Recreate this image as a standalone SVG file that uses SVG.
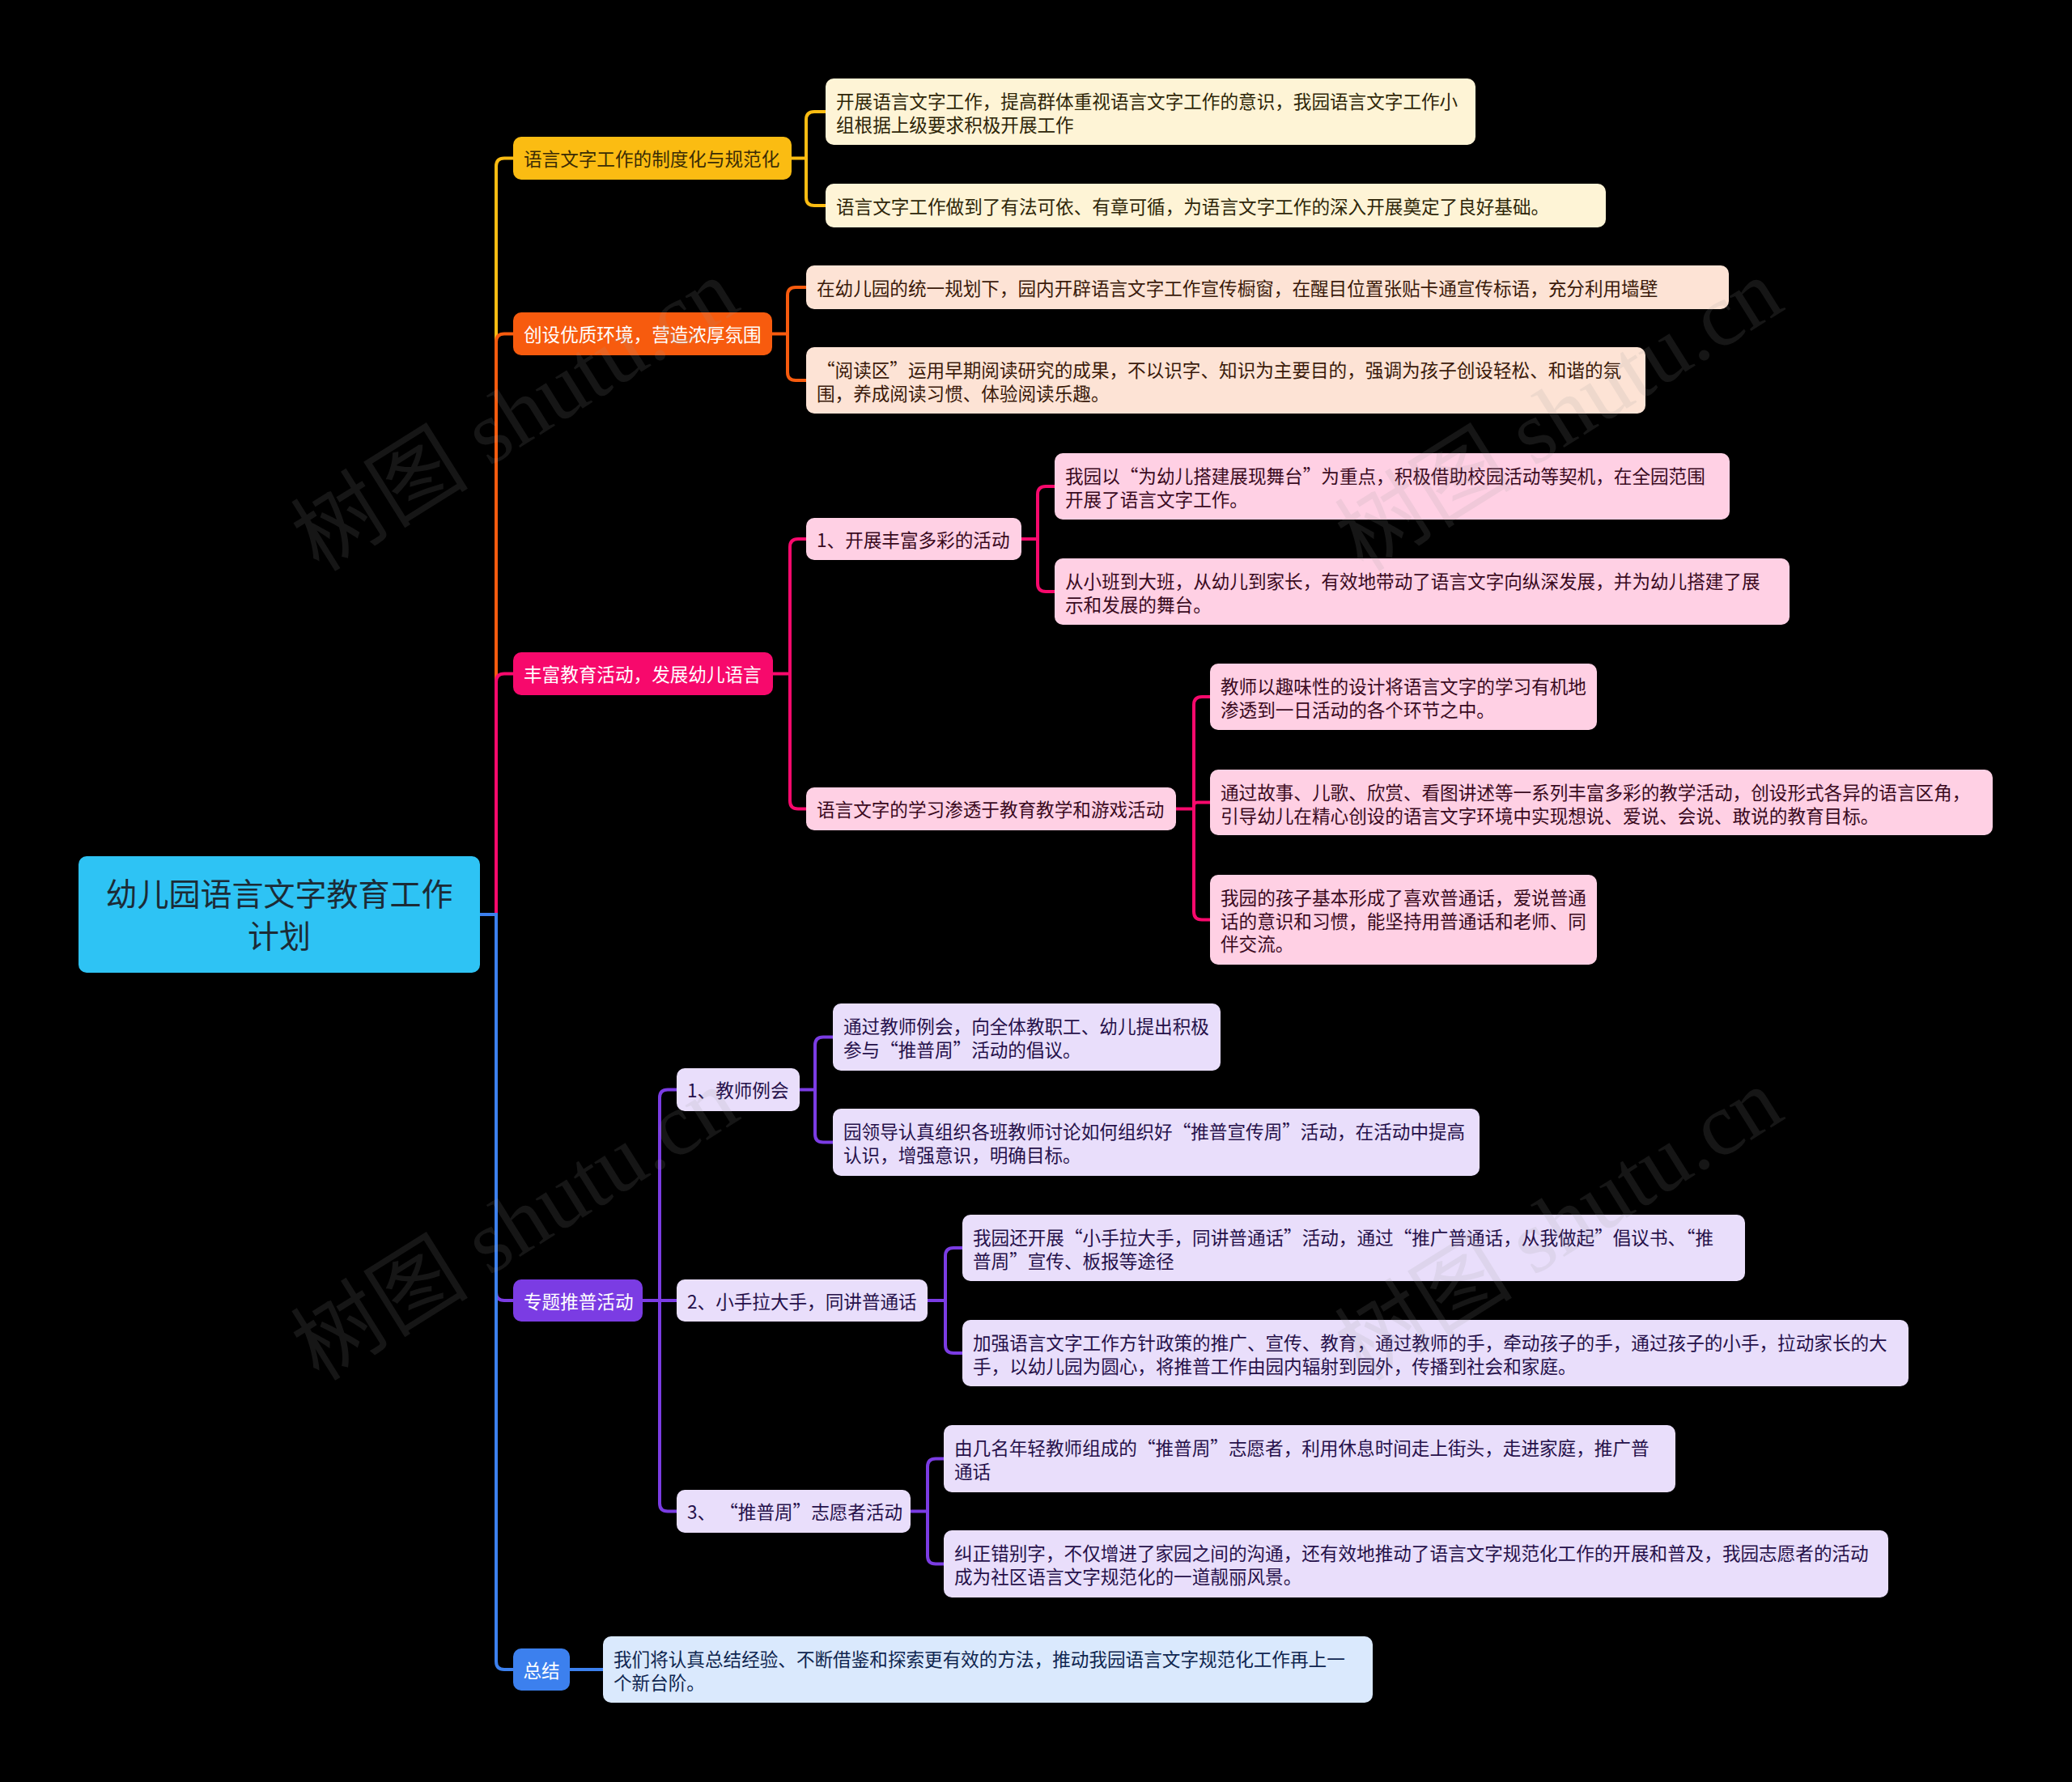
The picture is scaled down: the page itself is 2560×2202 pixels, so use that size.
<svg xmlns="http://www.w3.org/2000/svg" width="2560" height="2202" viewBox="0 0 2560 2202">
<style>
text{font-family:"Noto Sans CJK SC","Noto Sans",sans-serif;font-size:22.6px}
.c{fill:none;stroke-width:4;stroke-linecap:butt;stroke-linejoin:round}
.y{stroke:#FBBC12}.o{stroke:#F75B0E}.p{stroke:#F7096C}.v{stroke:#7B3CE3}.b{stroke:#3C80EE}
.wt{fill:#FFFFFF}
.ty{fill:#3A2C05}.tyc{fill:#2E2608}.toc{fill:#3A1A0A}.tpc{fill:#3A0A1E}.tvc{fill:#26114A}.tbc{fill:#0F2650}
.wm{font-family:"Liberation Serif","Noto Sans CJK SC",serif;font-size:110px;fill:#9a9a9a;opacity:0.14}
</style>
<rect x="0" y="0" width="2560" height="2202" fill="#000000"/>

<g id="connectors">
  <path class="c y" d="M613,1130 V205.5 Q613,195.5 623,195.5 H634"/>
  <path class="c o" d="M613,1130 V422.5 Q613,412.5 623,412.5 H634"/>
  <path class="c p" d="M613,1130 V842.5 Q613,832.5 623,832.5 H634"/>
  <path class="c v" d="M613,1130 V1597 Q613,1607 623,1607 H634"/>
  <path class="c b" d="M613,1130 V2053 Q613,2063 623,2063 H634"/>
  <path class="c b" d="M593,1130 H615"/>

  <path class="c y" d="M978,195.5 H996 M996,195.5 V148 Q996,138 1006,138 H1020 M996,195.5 V244 Q996,254 1006,254 H1020"/>
  <path class="c o" d="M954,412.5 H973 M973,412.5 V365 Q973,355 983,355 H996 M973,412.5 V460 Q973,470 983,470 H996"/>
  <path class="c p" d="M955,832.5 H976 M976,832.5 V676 Q976,666 986,666 H996 M976,832.5 V989.5 Q976,999.5 986,999.5 H996"/>
  <path class="c p" d="M1262,666 H1282 M1282,666 V611 Q1282,601 1292,601 H1303 M1282,666 V721 Q1282,731 1292,731 H1303"/>
  <path class="c p" d="M1453,999.5 H1475 M1475,999.5 V871 Q1475,861 1485,861 H1495 M1475,999.5 V995.5 Q1475,991.5 1479,991.5 H1495 M1475,999.5 V1126.5 Q1475,1136.5 1485,1136.5 H1495"/>
  <path class="c v" d="M794,1607 H815 M815,1607 V1356.5 Q815,1346.5 825,1346.5 H836 M815,1607 H836 M815,1607 V1857.5 Q815,1867.5 825,1867.5 H836"/>
  <path class="c v" d="M988,1346.5 H1007 M1007,1346.5 V1291.5 Q1007,1281.5 1017,1281.5 H1029 M1007,1346.5 V1401.5 Q1007,1411.5 1017,1411.5 H1029"/>
  <path class="c v" d="M1146,1607 H1168 M1168,1607 V1552 Q1168,1542 1178,1542 H1189 M1168,1607 V1662 Q1168,1672 1178,1672 H1189"/>
  <path class="c v" d="M1125,1867.5 H1146 M1146,1867.5 V1812.5 Q1146,1802.5 1156,1802.5 H1166 M1146,1867.5 V1922.5 Q1146,1932.5 1156,1932.5 H1166"/>
  <path class="c b" d="M704,2063 H745"/>
</g>

<g id="root">
  <rect x="97" y="1058" width="496" height="144" rx="10" fill="#2EC3F4"/>
  <text x="345" y="1119" text-anchor="middle" style="font-size:39px" fill="#1C2B36">幼儿园语言文字教育工作</text>
  <text x="345" y="1171" text-anchor="middle" style="font-size:39px" fill="#1C2B36">计划</text>
</g>

<g id="n1">
  <rect x="634" y="169" width="344" height="53" rx="10" fill="#FBBC12"/>
  <text x="647" y="205" class="ty">语言文字工作的制度化与规范化</text>
</g>
<g id="n1a">
  <rect x="1020" y="97" width="803" height="82" rx="10" fill="#FEF4D6"/>
  <text x="1033" y="134" class="tyc">开展语言文字工作，提高群体重视语言文字工作的意识，我园语言文字工作小</text>
  <text x="1033" y="162.5" class="tyc">组根据上级要求积极开展工作</text>
</g>
<g id="n1b">
  <rect x="1020" y="227" width="964" height="54" rx="10" fill="#FEF4D6"/>
  <text x="1033" y="263.5" class="tyc">语言文字工作做到了有法可依、有章可循，为语言文字工作的深入开展奠定了良好基础。</text>
</g>

<g id="n2">
  <rect x="634" y="386" width="320" height="53" rx="10" fill="#F75B0E"/>
  <text x="647" y="422" class="wt">创设优质环境，营造浓厚氛围</text>
</g>
<g id="n2a">
  <rect x="996" y="328" width="1140" height="54" rx="10" fill="#FDE3D5"/>
  <text x="1009" y="364.5" class="toc">在幼儿园的统一规划下，园内开辟语言文字工作宣传橱窗，在醒目位置张贴卡通宣传标语，充分利用墙壁</text>
</g>
<g id="n2b">
  <rect x="996" y="429" width="1037" height="82" rx="10" fill="#FDE3D5"/>
  <text x="1009" y="466" class="toc">“阅读区”运用早期阅读研究的成果，不以识字、知识为主要目的，强调为孩子创设轻松、和谐的氛</text>
  <text x="1009" y="494.5" class="toc">围，养成阅读习惯、体验阅读乐趣。</text>
</g>

<g id="n3">
  <rect x="634" y="806" width="321" height="53" rx="10" fill="#F7096C"/>
  <text x="647" y="842" class="wt">丰富教育活动，发展幼儿语言</text>
</g>
<g id="n3s1">
  <rect x="996" y="640" width="266" height="52" rx="10" fill="#FFD0E4"/>
  <text x="1009" y="675.5" class="tpc">1、开展丰富多彩的活动</text>
</g>
<g id="n3s1a">
  <rect x="1303" y="560" width="834" height="82" rx="10" fill="#FFD0E4"/>
  <text x="1316" y="597" class="tpc">我园以“为幼儿搭建展现舞台”为重点，积极借助校园活动等契机，在全园范围</text>
  <text x="1316" y="625.5" class="tpc">开展了语言文字工作。</text>
</g>
<g id="n3s1b">
  <rect x="1303" y="690" width="908" height="82" rx="10" fill="#FFD0E4"/>
  <text x="1316" y="727" class="tpc">从小班到大班，从幼儿到家长，有效地带动了语言文字向纵深发展，并为幼儿搭建了展</text>
  <text x="1316" y="755.5" class="tpc">示和发展的舞台。</text>
</g>
<g id="n3s2">
  <rect x="996" y="973" width="457" height="53" rx="10" fill="#FFD0E4"/>
  <text x="1009" y="1009" class="tpc">语言文字的学习渗透于教育教学和游戏活动</text>
</g>
<g id="n3s2a">
  <rect x="1495" y="820" width="478" height="82" rx="10" fill="#FFD0E4"/>
  <text x="1508" y="857" class="tpc">教师以趣味性的设计将语言文字的学习有机地</text>
  <text x="1508" y="885.5" class="tpc">渗透到一日活动的各个环节之中。</text>
</g>
<g id="n3s2b">
  <rect x="1495" y="951" width="967" height="81" rx="10" fill="#FFD0E4"/>
  <text x="1508" y="988" class="tpc">通过故事、儿歌、欣赏、看图讲述等一系列丰富多彩的教学活动，创设形式各异的语言区角，</text>
  <text x="1508" y="1016.5" class="tpc">引导幼儿在精心创设的语言文字环境中实现想说、爱说、会说、敢说的教育目标。</text>
</g>
<g id="n3s2c">
  <rect x="1495" y="1081" width="478" height="111" rx="10" fill="#FFD0E4"/>
  <text x="1508" y="1118" class="tpc">我园的孩子基本形成了喜欢普通话，爱说普通</text>
  <text x="1508" y="1146.5" class="tpc">话的意识和习惯，能坚持用普通话和老师、同</text>
  <text x="1508" y="1175" class="tpc">伴交流。</text>
</g>

<g id="n4">
  <rect x="634" y="1581" width="160" height="52" rx="10" fill="#7B3CE3"/>
  <text x="647" y="1616.5" class="wt">专题推普活动</text>
</g>
<g id="n4s1">
  <rect x="836" y="1320" width="152" height="53" rx="10" fill="#E9DEFB"/>
  <text x="849" y="1356" class="tvc">1、教师例会</text>
</g>
<g id="n4s1a">
  <rect x="1029" y="1240" width="479" height="83" rx="10" fill="#E9DEFB"/>
  <text x="1042" y="1277" class="tvc">通过教师例会，向全体教职工、幼儿提出积极</text>
  <text x="1042" y="1305.5" class="tvc">参与“推普周”活动的倡议。</text>
</g>
<g id="n4s1b">
  <rect x="1029" y="1370" width="799" height="83" rx="10" fill="#E9DEFB"/>
  <text x="1042" y="1407" class="tvc">园领导认真组织各班教师讨论如何组织好“推普宣传周”活动，在活动中提高</text>
  <text x="1042" y="1435.5" class="tvc">认识，增强意识，明确目标。</text>
</g>
<g id="n4s2">
  <rect x="836" y="1581" width="310" height="52" rx="10" fill="#E9DEFB"/>
  <text x="849" y="1616.5" class="tvc">2、小手拉大手，同讲普通话</text>
</g>
<g id="n4s2a">
  <rect x="1189" y="1501" width="967" height="82" rx="10" fill="#E9DEFB"/>
  <text x="1202" y="1538" class="tvc">我园还开展“小手拉大手，同讲普通话”活动，通过“推广普通话，从我做起”倡议书、“推</text>
  <text x="1202" y="1566.5" class="tvc">普周”宣传、板报等途径</text>
</g>
<g id="n4s2b">
  <rect x="1189" y="1631" width="1169" height="82" rx="10" fill="#E9DEFB"/>
  <text x="1202" y="1668" class="tvc">加强语言文字工作方针政策的推广、宣传、教育，通过教师的手，牵动孩子的手，通过孩子的小手，拉动家长的大</text>
  <text x="1202" y="1696.5" class="tvc">手，以幼儿园为圆心，将推普工作由园内辐射到园外，传播到社会和家庭。</text>
</g>
<g id="n4s3">
  <rect x="836" y="1841" width="289" height="53" rx="10" fill="#E9DEFB"/>
  <text x="849" y="1877" class="tvc" xml:space="preserve">3、 “推普周”志愿者活动</text>
</g>
<g id="n4s3a">
  <rect x="1166" y="1761" width="904" height="83" rx="10" fill="#E9DEFB"/>
  <text x="1179" y="1798" class="tvc">由几名年轻教师组成的“推普周”志愿者，利用休息时间走上街头，走进家庭，推广普</text>
  <text x="1179" y="1826.5" class="tvc">通话</text>
</g>
<g id="n4s3b">
  <rect x="1166" y="1891" width="1167" height="83" rx="10" fill="#E9DEFB"/>
  <text x="1179" y="1928" class="tvc">纠正错别字，不仅增进了家园之间的沟通，还有效地推动了语言文字规范化工作的开展和普及，我园志愿者的活动</text>
  <text x="1179" y="1956.5" class="tvc">成为社区语言文字规范化的一道靓丽风景。</text>
</g>

<g id="n5">
  <rect x="634" y="2037" width="70" height="52" rx="10" fill="#3C80EE"/>
  <text x="669" y="2072.5" text-anchor="middle" class="wt">总结</text>
</g>
<g id="n5a">
  <rect x="745" y="2022" width="951" height="82" rx="10" fill="#DAE9FD"/>
  <text x="758" y="2059" class="tbc">我们将认真总结经验、不断借鉴和探索更有效的方法，推动我园语言文字规范化工作再上一</text>
  <text x="758" y="2087.5" class="tbc">个新台阶。</text>
</g>

<g id="watermarks">
  <text class="wm" x="637" y="550" text-anchor="middle" transform="rotate(-32 637 514)">树图 shutu.cn</text>
  <text class="wm" x="1927" y="550" text-anchor="middle" transform="rotate(-32 1927 514)">树图 shutu.cn</text>
  <text class="wm" x="637" y="1550" text-anchor="middle" transform="rotate(-32 637 1514)">树图 shutu.cn</text>
  <text class="wm" x="1927" y="1550" text-anchor="middle" transform="rotate(-32 1927 1514)">树图 shutu.cn</text>
</g>
</svg>
